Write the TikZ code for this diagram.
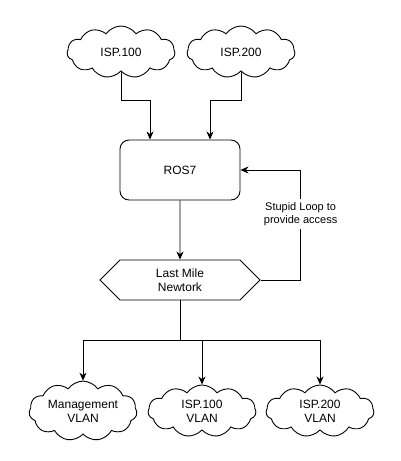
\documentclass[tikz,border=0pt]{standalone}
\usepackage{fontspec}
\setmainfont{Liberation Sans}
\usetikzlibrary{arrows.meta,shapes.symbols,positioning}
\begin{document}
\begin{tikzpicture}[x=1pt,y=-1pt,>={Stealth[length=8pt,width=7pt,inset=2.5pt]},
  font=\fontsize{12}{14}\selectfont, line width=0.9pt,
  isp/.style={cloud,cloud puffs=11,cloud puff arc=110,aspect=2.1,draw,inner sep=0pt,
    minimum width=108pt,minimum height=52pt,align=center},
  router/.style={draw,rounded corners=9pt,minimum width=120pt,minimum height=60pt},
  segment/.style={signal,signal to=west and east,signal pointer angle=90,draw,
    minimum width=160pt,minimum height=40pt,inner sep=0pt,align=center}]
\useasboundingbox (0,0) rectangle (401,461);

% Uplinks
\node[isp] (isp100) at (121,52) {ISP.100};
\node[isp] (isp200) at (241,52) {ISP.200};

% Router and last mile
\node[router] (ros) at (180,170) {ROS7};
\node[segment] (lastmile) at (180,280) {Last Mile\\Newtork};

% VLAN clouds
\node[isp] (mgmt) at (83,411) {Management\\VLAN};
\node[isp] (vlan100) at (202,411) {ISP.100\\VLAN};
\node[isp] (vlan200) at (320,411) {ISP.200\\VLAN};

\draw[->] (isp100.south) -- ++(0,29) -| ([xshift=-30pt]ros.north);
\draw[->] (isp200.south) -- ++(0,29) -| ([xshift=30pt]ros.north);
\draw[->] (ros) -- (lastmile);
\draw[->] (lastmile.east) -- ++(40,0) |- (ros.east)
  node[pos=0.3,fill=white,align=center,font=\fontsize{11}{13}\selectfont] {Stupid Loop to\\provide access};

% Fan out to the VLANs
\draw (lastmile.south) -- ++(0,40) coordinate (split);
\foreach \v in {mgmt,vlan100,vlan200}
  \draw[->] (split) -| (\v.north);
\end{tikzpicture}
\end{document}
